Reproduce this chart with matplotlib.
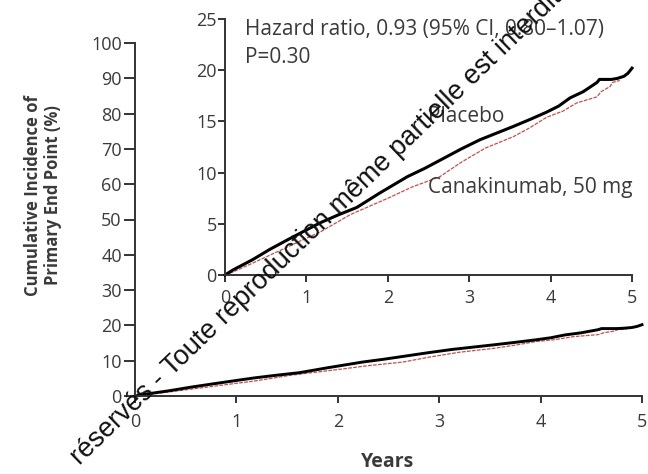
import numpy as np
import matplotlib
matplotlib.use("Agg")
import matplotlib.pyplot as plt

# Kaplan-Meier style cumulative incidence (%)
years_placebo = [0, 0.1, 0.34, 0.55, 0.76, 1.0, 1.17, 1.4, 1.62, 1.9, 2.24, 2.45,
                 2.64, 2.9, 3.13, 3.35, 3.54, 3.75, 3.95, 4.1, 4.24, 4.4, 4.57,
                 4.6, 4.75, 4.82, 4.9, 4.95, 5.0]
inc_placebo = [0, 0.5, 1.5, 2.5, 3.4, 4.4, 5.1, 5.9, 6.6, 8.0, 9.6, 10.4,
               11.2, 12.3, 13.2, 13.9, 14.5, 15.2, 15.9, 16.5, 17.3, 17.9, 18.8,
               19.1, 19.1, 19.2, 19.4, 19.7, 20.2]

years_cana = [0, 0.1, 0.35, 0.76, 1.0, 1.17, 1.54, 1.8, 2.03, 2.3, 2.64, 2.9,
              3.2, 3.54, 3.75, 3.95, 4.15, 4.32, 4.57, 4.62, 4.73, 4.76, 4.85]
inc_cana = [0, 0.3, 1.2, 2.7, 3.6, 4.2, 5.9, 6.8, 7.6, 8.6, 9.6, 11.0,
            12.4, 13.5, 14.4, 15.4, 16.0, 16.8, 17.4, 17.9, 18.4, 18.8, 19.0]

main_yticks = list(range(0, 101, 10))
inset_yticks = [0, 5, 10, 15, 20, 25]
xticks = [0, 1, 2, 3, 4, 5]

plt.rcParams["font.family"] = ["Open Sans", "DejaVu Sans"]

W, H = 648, 474
fig = plt.figure(figsize=(W / 100, H / 100), dpi=100)


def px_axes(left, right, bottom, top):
    return fig.add_axes([left / W, 1 - bottom / H, (right - left) / W, (bottom - top) / H])


axis_col = "#333333"
text_col = "#3a3a3a"
red = "#c0504d"


def style(ax, ylen, xpad, ypad):
    for s in ["top", "right"]:
        ax.spines[s].set_visible(False)
    for s in ["left", "bottom"]:
        ax.spines[s].set_color(axis_col)
        ax.spines[s].set_linewidth(1.4)
    ax.tick_params(axis="x", direction="out", length=5, width=1.4, color=axis_col,
                   labelsize=13, labelcolor=text_col, pad=xpad)
    ax.tick_params(axis="y", direction="out", length=ylen, width=1.4, color=axis_col,
                   labelsize=13, labelcolor=text_col, pad=ypad)
    ax.patch.set_alpha(0)


# main panel
ax = px_axes(135, 642, 396, 43)
ax.plot(years_cana, inc_cana, color=red, lw=0.9, ls=(0, (3, 1)), clip_on=False)
ax.plot(years_placebo, inc_placebo, color="black", lw=2.1, clip_on=False)
ax.set_xlim(0, 5)
ax.set_ylim(0, 100)
ax.set_xticks(xticks)
ax.set_yticks(main_yticks)
style(ax, 8, 7, 1.5)

# inset
ins = px_axes(225, 632, 275, 19)
ins.plot(years_cana, inc_cana, color=red, lw=0.9, ls=(0, (3, 1)), clip_on=False)
ins.plot(years_placebo, inc_placebo, color="black", lw=2.2, clip_on=False)
ins.set_xlim(0, 5)
ins.set_ylim(0, 25)
ins.set_xticks(xticks)
ins.set_yticks(inset_yticks)
style(ins, 5, 5, 1)

ins.text(0.25, 23.4, "Hazard ratio, 0.93 (95% CI, 0.80\u20131.07)", fontsize=15,
         color=text_col, va="baseline")
ins.text(0.25, 20.7, "P=0.30", fontsize=15, color=text_col, va="baseline")
ins.text(2.49, 14.9, "Placebo", fontsize=15, color=text_col, va="baseline")
ins.text(2.49, 8.0, "Canakinumab, 50 mg", fontsize=15, color=text_col, va="baseline")

fig.text(43 / W, 1 - 195 / H, "Cumulative Incidence of\nPrimary End Point (%)",
         rotation=90, ha="center", va="center", fontsize=12, fontweight="bold",
         color=text_col, linespacing=1.15)
fig.text(388 / W, 1 - 462 / H, "Years", ha="center", va="center", fontsize=14,
         fontweight="bold", color=text_col)

# watermark
fig.text(80 / W, 1 - 466 / H,
         "r\u00e9serv\u00e9s - Toute reproduction m\u00eame partielle est interdite",
         rotation=44, rotation_mode="anchor", ha="left", va="baseline",
         fontsize=19.5, family="Liberation Sans", color="#111111", zorder=10)

fig.savefig("out.png", dpi=100)
